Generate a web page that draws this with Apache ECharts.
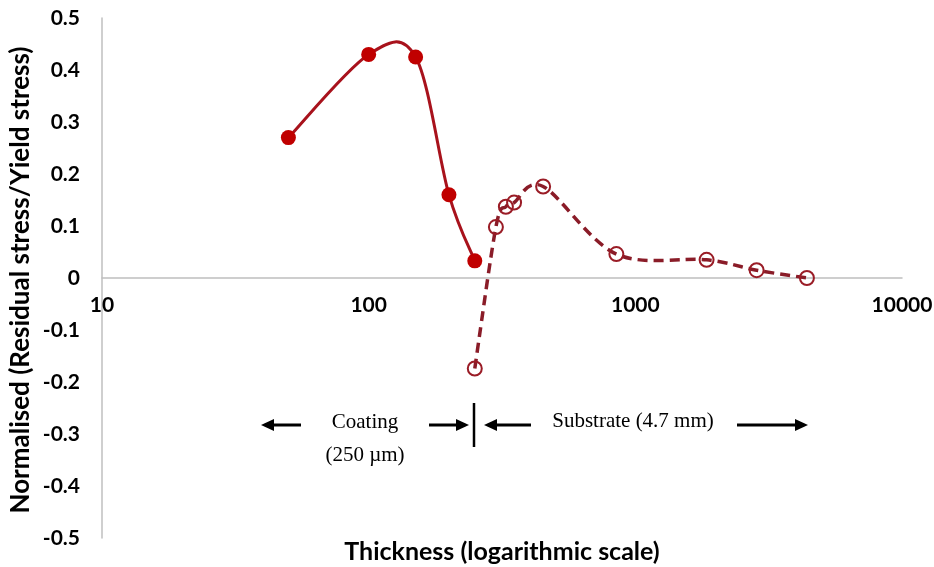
<!DOCTYPE html>
<html>
<head>
<meta charset="utf-8">
<script src="https://cdn.jsdelivr.net/npm/echarts@6/dist/echarts.min.js"></script>
<style>
html,body{margin:0;padding:0;background:#fff;}
#chart{width:934px;height:567px;}
</style>
</head>
<body>
<div id="chart"></div>
<script>
// ---- data ----
const coatingThickness = [50, 100, 150, 200, 250];
const coatingStress = [0.27, 0.43, 0.425, 0.16, 0.033];
const substrateThickness = [250, 300, 327, 351, 451, 849, 1850, 2850, 4400];
const substrateStress = [-0.174, 0.098, 0.137, 0.145, 0.176, 0.046, 0.035, 0.015, 0.0];
const xTicks = [10, 100, 1000, 10000];
const yTickLabels = ['-0.5','-0.4','-0.3','-0.2','-0.1','0','0.1','0.2','0.3','0.4','0.5'];
const yAxisTitle = 'Normalised (Residual stress/Yield stress)';
const xAxisTitle = 'Thickness (logarithmic scale)';
const coatingLabel = ['Coating', '(250 \u00b5m)'];
const substrateLabel = 'Substrate (4.7 mm)';

const pair = (xs, ys) => xs.map((x, i) => [x, ys[i]]);

const chart = echarts.init(document.getElementById('chart'));
const axisFont = {fontFamily: 'Lato', fontWeight: 'bold', fontSize: 21, color: '#000'};
const serif = 'Liberation Serif';

// smooth curve (Catmull-Rom style bezier) through the data points, in pixel space
function smoothCurve(stroke, width, dash) {
  return function (params, api) {
    if (params.dataIndexInside !== 0) return null;
    const n = params.dataInsideLength;
    const pts = [];
    for (let i = 0; i < n; i++) {
      pts.push(api.coord([api.value(0, i), api.value(1, i)]));
    }
    let d = 'M' + pts[0][0] + ' ' + pts[0][1];
    for (let i = 0; i < n - 1; i++) {
      const p0 = pts[Math.max(i - 1, 0)], p1 = pts[i], p2 = pts[i + 1], p3 = pts[Math.min(i + 2, n - 1)];
      const c1x = p1[0] + (p2[0] - p0[0]) / 6, c1y = p1[1] + (p2[1] - p0[1]) / 6;
      const c2x = p2[0] - (p3[0] - p1[0]) / 6, c2y = p2[1] - (p3[1] - p1[1]) / 6;
      d += ' C' + c1x + ' ' + c1y + ' ' + c2x + ' ' + c2y + ' ' + p2[0] + ' ' + p2[1];
    }
    return {
      type: 'path',
      shape: {pathData: d},
      style: {stroke: stroke, lineWidth: width, fill: null, lineDash: dash || null}
    };
  };
}

function arrow(x1, x2, y) {
  const dir = x2 > x1 ? 1 : -1;
  const headLen = 13, headHalf = 6;
  return [
    {type: 'line', shape: {x1: x1, y1: y, x2: x2 - dir * headLen + dir * 2, y2: y},
     style: {stroke: '#000', lineWidth: 3}},
    {type: 'polygon', shape: {points: [[x2, y], [x2 - dir * headLen, y - headHalf], [x2 - dir * headLen, y + headHalf]]},
     style: {fill: '#000'}}
  ];
}

const option = {
  animation: false,
  backgroundColor: '#fff',
  grid: {left: 102, right: 32, top: 18, bottom: 29, containLabel: false, outerBoundsMode: 'none'},
  xAxis: {
    type: 'log', logBase: 10, min: xTicks[0], max: xTicks[xTicks.length - 1],
    offset: -260,
    axisLine: {onZero: false, lineStyle: {color: '#bfbfbf', width: 1.5}},
    axisTick: {show: false},
    splitLine: {show: false},
    minorTick: {show: false},
    axisLabel: Object.assign({margin: 17, formatter: v => String(v)}, axisFont)
  },
  yAxis: {
    type: 'value', min: -0.5, max: 0.5, interval: 0.1,
    axisLine: {show: true, lineStyle: {color: '#bfbfbf', width: 1.5}},
    axisTick: {show: false},
    splitLine: {show: false},
    axisLabel: Object.assign({margin: 22, formatter: (v) => {
      const idx = Math.round((v + 0.5) * 10);
      return yTickLabels[idx];
    }}, axisFont)
  },
  series: [
    {
      name: 'Coating curve', type: 'custom',
      data: pair(coatingThickness, coatingStress),
      encode: {x: 0, y: 1},
      renderItem: smoothCurve('#a8121c', 3),
      z: 3, silent: true
    },
    {
      name: 'Coating', type: 'scatter',
      data: pair(coatingThickness, coatingStress),
      symbol: 'circle', symbolSize: 15,
      itemStyle: {color: '#c00000', opacity: 1},
      z: 4
    },
    {
      name: 'Substrate curve', type: 'custom',
      data: pair(substrateThickness, substrateStress),
      encode: {x: 0, y: 1},
      renderItem: smoothCurve('#8a1c28', 3.5, [10, 6]),
      z: 2, silent: true
    },
    {
      name: 'Substrate', type: 'scatter',
      data: pair(substrateThickness, substrateStress),
      symbol: 'circle', symbolSize: 14,
      itemStyle: {color: 'rgba(255,255,255,0)', borderColor: '#9a1c26', borderWidth: 2, opacity: 1},
      z: 3
    }
  ],
  graphic: [
    {type: 'text', rotation: Math.PI / 2, x: 21, y: 280,
     style: {text: yAxisTitle, font: 'bold 26px Lato', fill: '#000', textAlign: 'center', textVerticalAlign: 'middle'}},
    {type: 'text', x: 502, y: 552,
     style: {text: xAxisTitle, font: 'bold 25px Lato', fill: '#000', textAlign: 'center', textVerticalAlign: 'middle'}},
    ...arrow(301, 261, 425),
    {type: 'text', x: 365, y: 422,
     style: {text: coatingLabel[0], font: '21px "' + serif + '"', fill: '#000', textAlign: 'center', textVerticalAlign: 'middle'}},
    {type: 'text', x: 365, y: 455,
     style: {text: coatingLabel[1], font: '21px "' + serif + '"', fill: '#000', textAlign: 'center', textVerticalAlign: 'middle'}},
    ...arrow(429, 469, 425),
    {type: 'line', shape: {x1: 474, y1: 403, x2: 474, y2: 447}, style: {stroke: '#000', lineWidth: 2.5}},
    ...arrow(531, 484, 425),
    {type: 'text', x: 633, y: 421,
     style: {text: substrateLabel, font: '21px "' + serif + '"', fill: '#000', textAlign: 'center', textVerticalAlign: 'middle'}},
    ...arrow(737, 808, 425)
  ]
};
chart.setOption(option);
</script>
</body>
</html>
